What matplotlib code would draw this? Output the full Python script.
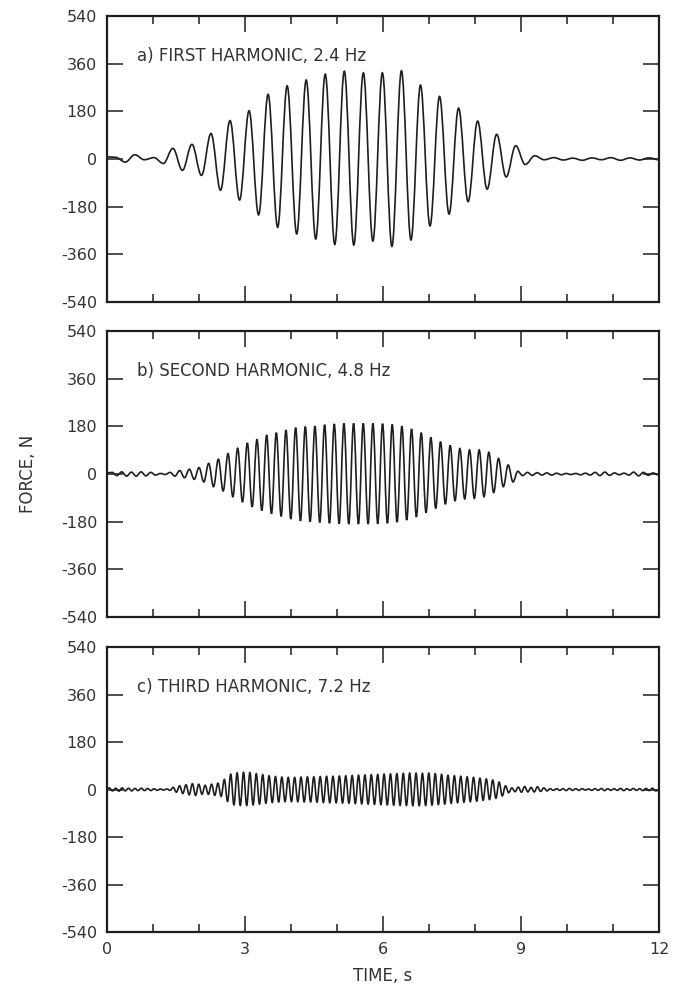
import matplotlib
matplotlib.use("Agg")
import matplotlib.pyplot as plt
from matplotlib.path import Path
from matplotlib.patches import PathPatch
from matplotlib.ticker import MultipleLocator

plt.rcParams['font.family'] = ['DejaVu Sans']
plt.rcParams['axes.unicode_minus'] = False

titles = ['a) FIRST HARMONIC, 2.4 Hz',
          'b) SECOND HARMONIC, 4.8 Hz',
          'c) THIRD HARMONIC, 7.2 Hz']
y_ticks = [-540, -360, -180, 0, 180, 360, 540]
x_ticks = [0, 3, 6, 9, 12]
t_end = 12

# extremes: one positive peak and one negative trough per cycle
# a) first harmonic
a_first_peak = 0.19
a_period = 0.414
a_start, a_stop = 8, -3
a_peaks = [6, 16, 5, 40, 55, 96, 145, 182, 244, 276, 298, 320, 331, 325, 325,
           333, 279, 236, 192, 143, 93, 50, 12, 5, 3, 4, 5, 4, 4]
a_troughs = [-12, -3, -17, -43, -62, -118, -155, -211, -258, -283, -302, -323,
             -325, -310, -330, -306, -253, -208, -161, -114, -68, -21, -3, -4,
             -5, -3, -5, -4]

# b) second harmonic
b_first_peak = 0.11
b_period = 0.21
b_start, b_stop = 4, -2
b_peaks = [6, 8, 7, 8, 6, 2, 6, 13, 18, 24, 40, 56, 77, 97, 117, 131, 147, 156,
           166, 175, 179, 181, 186, 189, 191, 191, 191, 191, 190, 187, 181, 170,
           156, 138, 122, 108, 96, 91, 91, 82, 59, 34, 10, 6, 5, 4, 3, 2, 2, 3,
           6, 7, 4, 3, 7, 6, 4]
b_troughs = [-6, -8, -8, -7, -4, -2, -8, -14, -20, -30, -48, -64, -86, -106,
             -124, -138, -150, -160, -170, -177, -180, -183, -186, -188, -189,
             -189, -189, -188, -186, -182, -174, -162, -146, -130, -114, -101,
             -94, -92, -86, -70, -48, -30, -6, -5, -4, -4, -3, -2, -3, -4, -6,
             -5, -3, -4, -7, -5, -3]

# c) third harmonic
c_first_peak = 0.05
c_period = 0.1389
c_start, c_stop = 3, -2
c_peaks = [6, 5, 6, 5, 4, 5, 4, 3, 2, 2,
           8, 14, 18, 22, 20, 16, 20, 24, 38, 58,
           63, 65, 64, 60, 56, 52, 49, 47, 46, 46,
           47, 48, 48, 49, 50, 50, 51, 52, 53, 54,
           55, 56, 57, 58, 59, 60, 61, 62, 62, 61,
           62, 60, 57, 54, 52, 50, 48, 46, 43, 40,
           36, 28, 14, 6, 9, 11, 8, 10, 6, 3,
           3, 3, 4, 3, 3, 2, 3, 4, 3, 3,
           4, 3, 4, 3, 4, 5]
c_troughs = [-5, -6, -5, -5, -4, -4, -4, -3, -2, -3,
             -10, -15, -20, -22, -18, -18, -22, -26, -45, -58,
             -60, -60, -58, -55, -52, -49, -47, -46, -46, -46,
             -47, -47, -48, -49, -50, -50, -51, -52, -53, -54,
             -55, -56, -57, -58, -59, -60, -60, -61, -61, -60,
             -59, -57, -55, -52, -50, -48, -46, -44, -41, -38,
             -33, -24, -12, -8, -10, -9, -9, -7, -5, -3,
             -3, -4, -3, -3, -2, -3, -3, -4, -3, -3,
             -4, -3, -3, -4, -4, -5]

traces = [
    (a_first_peak, a_period, a_start, a_stop, a_peaks, a_troughs),
    (b_first_peak, b_period, b_start, b_stop, b_peaks, b_troughs),
    (c_first_peak, c_period, c_start, c_stop, c_peaks, c_troughs),
]


def trace_path(first_peak, period, start, stop, peaks, troughs):
    # extremes in time order, joined by cubic curves with flat tangents
    pts = [(0, start)]
    ext = [(first_peak + i * period, v) for i, v in enumerate(peaks)]
    ext += [(first_peak + (i + 0.5) * period, v) for i, v in enumerate(troughs)]
    ext = sorted(p for p in ext if 0 < p[0] < t_end)
    pts += ext
    pts.append((t_end, stop))
    k = 0.3634
    verts = [pts[0]]
    codes = [Path.MOVETO]
    for (t0, v0), (t1, v1) in zip(pts[:-1], pts[1:]):
        dt = t1 - t0
        verts += [(t0 + k * dt, v0), (t1 - k * dt, v1), (t1, v1)]
        codes += [Path.CURVE4] * 3
    return Path(verts, codes)


ink = '#1e1e1e'
txt = '#333333'

fig = plt.figure(figsize=(6.74, 9.91), dpi=100)
boxes = [(0.1588, 0.6953, 0.819, 0.2886),
         (0.1588, 0.3774, 0.819, 0.2886),
         (0.1588, 0.0595, 0.819, 0.2876)]

for n, (box, title, tr) in enumerate(zip(boxes, titles, traces)):
    ax = fig.add_axes(box)
    ax.add_patch(PathPatch(trace_path(*tr), fill=False, edgecolor=ink, lw=1.2))
    ax.set_xlim(0, t_end)
    ax.set_ylim(-540, 540)
    ax.set_xticks(x_ticks)
    ax.xaxis.set_minor_locator(MultipleLocator(1))
    ax.set_yticks(y_ticks)
    ax.tick_params(which='both', direction='in', top=True, right=True,
                   color=ink, width=1.1, labelsize=11.5, labelcolor=txt, pad=7)
    ax.tick_params(which='major', length=11.5)
    ax.tick_params(which='minor', length=6)
    ax.tick_params(axis='y', which='minor', left=False, right=False)
    if n < 2:
        ax.tick_params(axis='x', labelbottom=False)
    for sp in ax.spines.values():
        sp.set_linewidth(1.6)
        sp.set_color(ink)
    ax.text(0.055, 0.86, title, transform=ax.transAxes, fontsize=12,
            color=txt, va='center', ha='left')

fig.text(0.1588 + 0.819 / 2, 1 - 976 / 991, 'TIME, s', fontsize=12,
         color=txt, ha='center', va='center')
fig.text(28 / 674, 1 - 474 / 991, 'FORCE, N', rotation=90, fontsize=12,
         color=txt, ha='center', va='center')

fig.savefig('out.png', dpi=100)
